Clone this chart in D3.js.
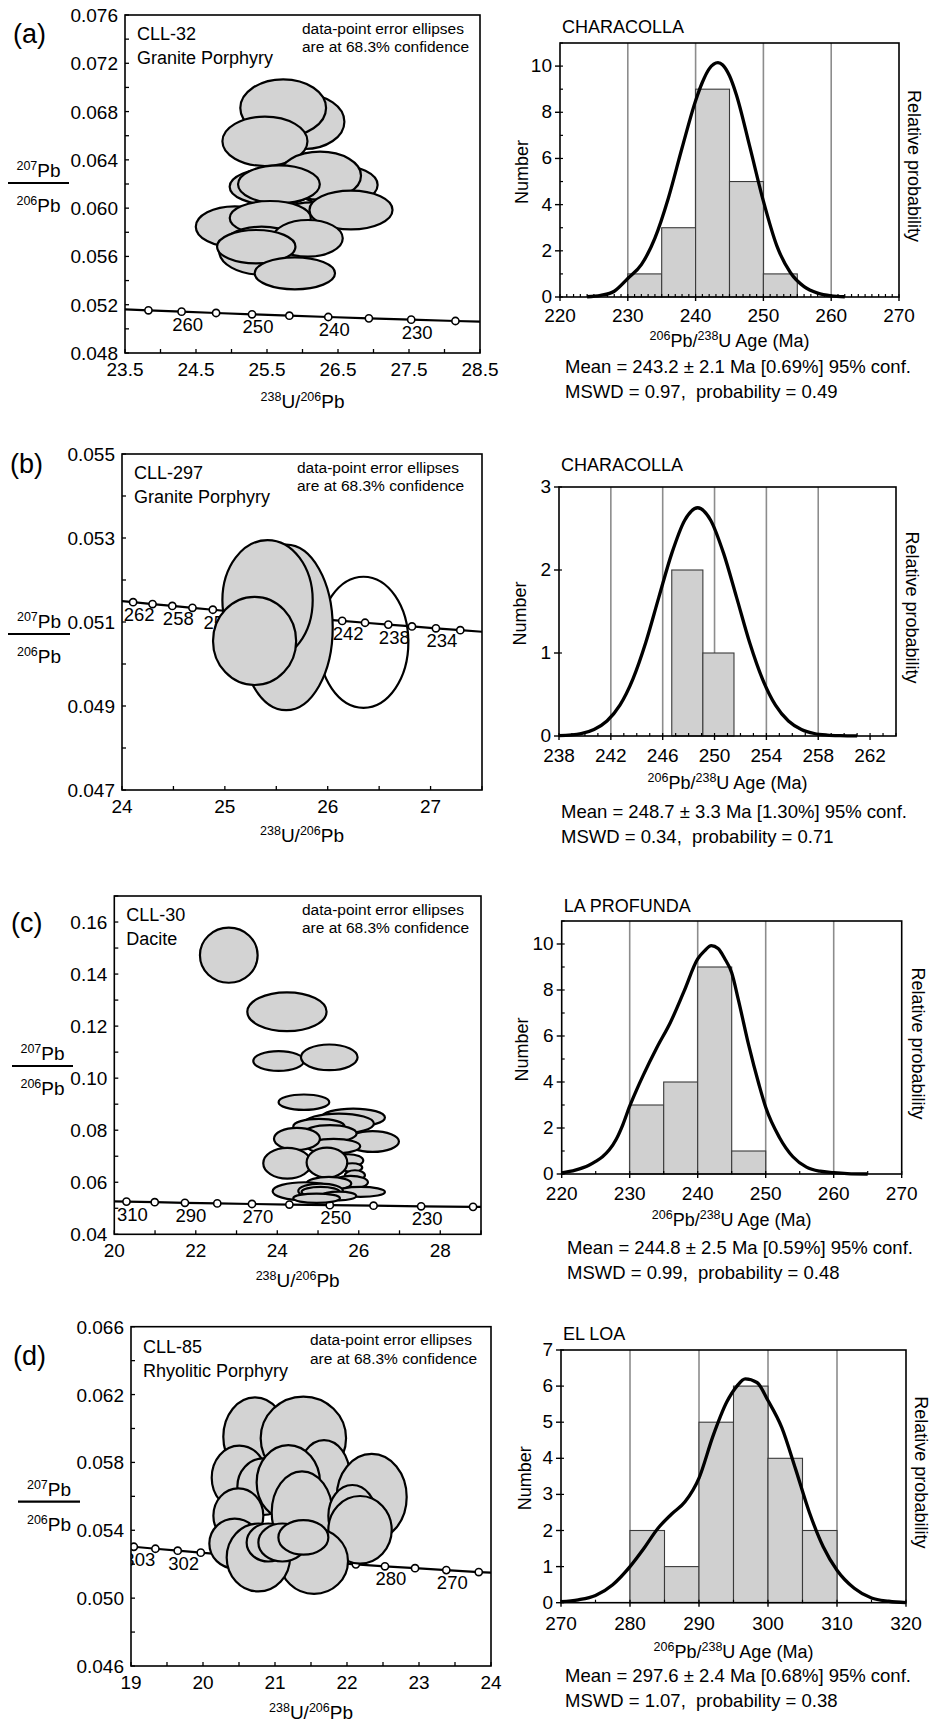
<!DOCTYPE html>
<html><head><meta charset="utf-8">
<script src="https://cdn.jsdelivr.net/npm/d3@7"></script>
<style>
body{margin:0;background:#fff}
svg{display:block}
text{font-family:"Liberation Sans",Arial,Helvetica,sans-serif;fill:#000;white-space:pre}
</style>
</head><body>
<svg id="c" width="930" height="1724"></svg>
<script>
// ================= DATA =================
const panelLabels = ["(a)","(b)","(c)","(d)"];
const sampleIds = ["CLL-32","CLL-297","CLL-30","CLL-85"];
const rockTypes = ["Granite Porphyry","Granite Porphyry","Dacite","Rhyolitic Porphyry"];
const noteLines = ["data-point error ellipses","are at 68.3% confidence"];
const histTitles = ["CHARACOLLA","CHARACOLLA","LA PROFUNDA","EL LOA"];
const meanLines = [
  "Mean = 243.2 \u00b1 2.1 Ma [0.69%] 95% conf.",
  "Mean = 248.7 \u00b1 3.3 Ma [1.30%] 95% conf.",
  "Mean = 244.8 \u00b1 2.5 Ma [0.59%] 95% conf.",
  "Mean = 297.6 \u00b1 2.4 Ma [0.68%] 95% conf."];
const mswdLines = [
  "MSWD = 0.97,  probability = 0.49",
  "MSWD = 0.34,  probability = 0.71",
  "MSWD = 0.99,  probability = 0.48",
  "MSWD = 1.07,  probability = 0.38"];

// Concordia points: age (Ma), 238U/206Pb, 207Pb/206Pb
const concAgeA = [270,265,260,255,250,245,240,235,230,225,220];
const concUA   = [23.379,23.830,24.297,24.783,25.289,25.815,26.363,26.935,27.531,28.154,28.805];
const concPbA  = [0.051652,0.051539,0.051427,0.051315,0.051204,0.051092,0.050982,0.050871,0.050762,0.050651,0.050542];
const concLabA = [260,250,240,230];

const concAgeB = [266,264,262,260,258,256,254,252,250,248,246,244,242,240,238,236,234,232,230];
const concUB   = [23.738,23.922,24.108,24.297,24.489,24.685,24.883,25.084,25.289,25.497,25.708,25.923,26.141,26.363,26.589,26.819,27.052,27.289,27.531];
const concPbB  = [0.051561,0.051516,0.051471,0.051427,0.051382,0.051338,0.051292,0.051248,0.051204,0.051159,0.051114,0.051070,0.051026,0.050982,0.050938,0.050894,0.050850,0.050805,0.050762];
const concLabB = [262,258,254,250,246,242,238,234];

const concAgeC = [315,310,300,290,280,270,260,250,240,230,220,215];
const concUC   = [19.969,20.299,20.992,21.733,22.527,23.379,24.297,25.289,26.363,27.531,28.805,29.486];
const concPbC  = [0.052680,0.052564,0.052333,0.052105,0.051877,0.051652,0.051427,0.051204,0.050982,0.050762,0.050542,0.050433];
const concLabC = [310,290,270,250,230];

const concAgeD = [335,330,325,320,315,310,305,300,295,290,285,280,275,270,265,260];
const concUD   = [18.747,19.039,19.339,19.649,19.969,20.299,20.640,20.992,21.356,21.733,22.123,22.527,22.945,23.379,23.830,24.297];
const concPbD  = [0.053146,0.053028,0.052912,0.052796,0.052680,0.052564,0.052449,0.052333,0.052219,0.052105,0.051991,0.051877,0.051764,0.051652,0.051539,0.051427];
const concLabD = [330,320,280,270];
const concLabTextD = ["303","302","280","270"];

// Error ellipses: [238U/206Pb, 207Pb/206Pb, half-width, half-height, filled]
const ellA = [
  [26.028,0.067164,0.562,0.002264,1],[25.728,0.068296,0.604,0.002375,1],[25.471,0.065534,0.599,0.002043,1],
  [26.473,0.061917,0.585,0.001657,1],[26.248,0.062690,0.576,0.001988,1],[26.122,0.059155,0.468,0.001325,1],
  [25.583,0.061779,0.609,0.001519,1],[25.668,0.061972,0.576,0.001574,1],[26.683,0.059846,0.585,0.001600,1],
  [25.045,0.058465,0.548,0.001684,1],[25.546,0.059183,0.571,0.001408,1],[25.424,0.056477,0.599,0.001988,1],
  [26.075,0.057499,0.492,0.001519,1],[25.349,0.056809,0.552,0.001381,1],[25.892,0.054600,0.566,0.001325,1]];
const ellB = [
  [26.348,0.050517,0.436,0.00156,0],[25.596,0.050870,0.4525,0.00197,1],
  [25.415,0.051520,0.439,0.00143,1],[25.289,0.050550,0.404,0.00105,1]];
const ellC = [
  [22.810,0.14724,0.708,0.01058,1],[24.237,0.12551,0.973,0.00744,1],[24.033,0.10660,0.622,0.00378,1],
  [25.276,0.10800,0.695,0.00494,1],[24.654,0.09077,0.622,0.00295,1],[25.865,0.08487,0.777,0.00346,1],
  [25.513,0.08256,0.859,0.00385,1],[25.022,0.08141,0.630,0.00295,1],[26.340,0.07564,0.646,0.00397,1],
  [25.292,0.07872,0.654,0.00320,1],[25.382,0.07385,0.654,0.00282,1],[24.483,0.07667,0.564,0.00423,1],
  [25.742,0.06833,0.368,0.00244,1],[25.840,0.06564,0.245,0.00167,1],[25.906,0.06269,0.245,0.00192,1],
  [24.245,0.06731,0.589,0.00590,1],[25.219,0.06756,0.499,0.00577,1],[25.800,0.06000,0.425,0.00244,1],
  [25.268,0.05949,0.548,0.00256,1],[26.045,0.05628,0.597,0.00192,1],[24.671,0.05654,0.785,0.00346,1],
  [25.063,0.05667,0.548,0.00282,1],[25.063,0.05628,0.466,0.00192,1],[25.513,0.05474,0.425,0.00167,1],
  [24.965,0.05385,0.573,0.00180,1]];
const ellD = [
  [20.722,0.05951,0.440,0.00232,1],[21.394,0.05942,0.593,0.00246,1],[20.505,0.05710,0.384,0.00189,1],
  [21.681,0.05725,0.356,0.00206,1],[22.343,0.05596,0.486,0.00254,1],[20.838,0.05657,0.361,0.00167,1],
  [21.185,0.05682,0.440,0.00220,1],[20.491,0.05486,0.347,0.00161,1],[21.375,0.05505,0.421,0.00242,1],
  [22.074,0.05486,0.333,0.00181,1],[22.181,0.05403,0.440,0.00199,1],[20.440,0.05322,0.352,0.00147,1],
  [21.542,0.05218,0.472,0.00193,1],[20.769,0.05240,0.440,0.00200,1],[20.907,0.05328,0.301,0.00112,1],
  [21.102,0.05328,0.333,0.00112,1],[21.394,0.05358,0.347,0.00102,1]];

// Histograms: bin edges (Ma) and counts
const binsA = [230,235,240,245,250,255];        const countsA = [1,3,9,5,1];
const binsB = [246.7,249.1,251.5];              const countsB = [2,1];
const binsC = [230,235,240,245,250];            const countsC = [3,4,9,1];
const binsD = [280,285,290,295,300,305,310];    const countsD = [2,1,5,6,4,2];

// Relative probability curves (age, height on Number scale)
const curveAgeA = [224,226,228,230,232,234,236,238,240,241,242,243.3,244,245,246,248,250,252,254,256,258,260,262];
const curveValA = [0.01,0.07,0.25,0.8,1.4,2.55,4.3,6.45,8.5,9.3,9.88,10.15,10.05,9.58,8.77,6.5,4.15,2.2,1.05,0.45,0.17,0.05,0.01];
const curveAgeB = [238,239.7,240.7,241.7,242.7,243.7,244.7,245.7,246.7,247.7,248.7,249.7,250.7,251.7,252.7,253.7,254.7,255.7,256.7,257.7,258.7,259.7,261];
const curveValB = [0.005,0.03,0.079,0.181,0.372,0.686,1.13,1.67,2.2,2.6,2.75,2.6,2.2,1.67,1.13,0.686,0.372,0.181,0.079,0.03,0.011,0.004,0.001];
const curveAgeC = [220,222,224,225,226,227,228,229,230,231,232,234,236,238,240,241,242,243,244,245,246,247.5,249,250,252,254,256,258,260,262,265];
const curveValC = [0.05,0.17,0.38,0.55,0.75,1.05,1.5,2.15,2.95,3.65,4.3,5.5,6.6,7.95,9.35,9.7,9.93,9.8,9.35,8.75,7.55,5.6,3.9,2.9,1.6,0.75,0.3,0.12,0.06,0.02,0.0];
const curveAgeD = [270,272.5,275,277.5,280,282,284,286,288,290,292,294,295.5,296.7,298.4,300,302,304,306,308,310,312.5,315,317.5,320];
const curveValD = [0.03,0.08,0.2,0.5,1.0,1.5,2.05,2.45,2.8,3.45,4.6,5.55,6.0,6.2,6.1,5.6,4.85,3.7,2.5,1.55,0.9,0.4,0.13,0.04,0.0];

// Axis ticks
const cxTicksA = [23.5,24.5,25.5,26.5,27.5,28.5]; const cyTicksA = [0.048,0.052,0.056,0.060,0.064,0.068,0.072,0.076];
const cxTicksB = [24,25,26,27];                    const cyTicksB = [0.047,0.049,0.051,0.053,0.055];
const cxTicksC = [20,22,24,26,28];                 const cyTicksC = [0.04,0.06,0.08,0.10,0.12,0.14,0.16];
const cxTicksD = [19,20,21,22,23,24];              const cyTicksD = [0.046,0.050,0.054,0.058,0.062,0.066];
const hxTicksA = [220,230,240,250,260,270]; const hyTicksA = [0,2,4,6,8,10];
const hxTicksB = [238,242,246,250,254,258,262]; const hyTicksB = [0,1,2,3];
const hxTicksC = [220,230,240,250,260,270]; const hyTicksC = [0,2,4,6,8,10];
const hxTicksD = [270,280,290,300,310,320]; const hyTicksD = [0,1,2,3,4,5,6,7];

// ================= DRAWING =================
const svg = d3.select("#c");
const FS = 18, FT = 19, SUP = 12.5;

function richText(sel, parts) {
  parts.forEach(([t, s], i) => {
    const ts = sel.append("tspan").text(t);
    if (s) ts.attr("font-size", SUP).attr("dy", -7);
    else if (i > 0 && parts[i-1][1]) ts.attr("dy", 7);
  });
}

function concPanel(p) {
  const g = svg.append("g");
  const x = d3.scaleLinear().domain(p.xDom).range([p.L, p.R]);
  const y = d3.scaleLinear().domain(p.yDom).range([p.B, p.T]);
  const cid = "clip" + p.key;
  svg.append("clipPath").attr("id", cid).append("rect")
    .attr("x", p.L).attr("y", p.T).attr("width", p.R - p.L).attr("height", p.B - p.T);
  const inner = g.append("g").attr("clip-path", `url(#${cid})`);
  const pts = p.ages.map((a, i) => ({a, u: p.u[i], pb: p.pb[i]}));
  inner.append("path")
    .attr("d", d3.line().x(d => x(d.u)).y(d => y(d.pb))(pts))
    .attr("fill", "none").attr("stroke", "#000").attr("stroke-width", 2.2);
  p.labAges.forEach((a, i) => {
    const d = pts.find(q => q.a === a);
    inner.append("text").attr("x", x(d.u) + 6).attr("y", y(d.pb) + 19)
      .attr("text-anchor", "middle").attr("font-size", 18.5)
      .text(p.labTexts ? p.labTexts[i] : String(a));
  });
  inner.selectAll("circle.cp").data(pts.filter(d => d.u > p.xDom[0] && d.u < p.xDom[1])).join("circle")
    .attr("cx", d => x(d.u)).attr("cy", d => y(d.pb)).attr("r", 3.6)
    .attr("fill", "#fff").attr("stroke", "#000").attr("stroke-width", 1.6);
  p.ells.forEach(e => {
    inner.append("ellipse")
      .attr("cx", x(e[0])).attr("cy", y(e[1]))
      .attr("rx", x(e[0] + e[2]) - x(e[0])).attr("ry", y(e[1]) - y(e[1] + e[3]))
      .attr("fill", e[4] ? "#d3d3d3" : "none").attr("stroke", "#000").attr("stroke-width", 2.2);
  });
  g.append("rect").attr("x", p.L).attr("y", p.T).attr("width", p.R - p.L).attr("height", p.B - p.T)
    .attr("fill", "none").attr("stroke", "#000").attr("stroke-width", 1.6);
  const xs = d3.range(p.xDom[0], p.xDom[1] + 1e-9, p.xMinor);
  xs.forEach(v => g.append("line").attr("x1", x(v)).attr("x2", x(v)).attr("y1", p.B).attr("y2", p.B - 4)
    .attr("stroke", "#000").attr("stroke-width", 1.3));
  const ys = d3.range(p.yDom[0], p.yDom[1] + 1e-9, p.yMinor);
  ys.forEach(v => g.append("line").attr("x1", p.L).attr("x2", p.L + 4).attr("y1", y(v)).attr("y2", y(v))
    .attr("stroke", "#000").attr("stroke-width", 1.3));
  p.xTicks.forEach(v => g.append("text").attr("x", x(v)).attr("y", p.B + 23).attr("text-anchor", "middle")
    .attr("font-size", FT).text(d3.format(p.xFmt)(v)));
  p.yTicks.forEach(v => g.append("text").attr("x", p.L - 7).attr("y", y(v) + 7).attr("text-anchor", "end")
    .attr("font-size", FT).text(d3.format(p.yFmt)(v)));
  const xt = g.append("text").attr("x", (p.L + p.R) / 2).attr("y", p.B + p.xTitleDy)
    .attr("text-anchor", "middle").attr("font-size", FT);
  richText(xt, [["238",1],["U/",0],["206",1],["Pb",0]]);
  const cx = (p.fx0 + p.fx1) / 2;
  g.append("line").attr("x1", p.fx0).attr("x2", p.fx1).attr("y1", p.fy).attr("y2", p.fy)
    .attr("stroke", "#000").attr("stroke-width", 2.2);
  richText(g.append("text").attr("x", cx).attr("y", p.fy - 6).attr("text-anchor", "middle").attr("font-size", FT),
    [["207",1],["Pb",0]]);
  richText(g.append("text").attr("x", cx).attr("y", p.fy + 29).attr("text-anchor", "middle").attr("font-size", FT),
    [["206",1],["Pb",0]]);
  g.append("text").attr("x", p.labX).attr("y", p.labY).attr("font-size", 27).text(p.panel);
  g.append("text").attr("x", p.L + 12).attr("y", p.T + p.sDy).attr("font-size", 18).text(p.sample);
  g.append("text").attr("x", p.L + 12).attr("y", p.T + p.sDy + 24).attr("font-size", 18).text(p.rock);
  g.append("text").attr("x", p.noteX).attr("y", p.T + 18.5).attr("font-size", 15.5).text(noteLines[0]);
  g.append("text").attr("x", p.noteX).attr("y", p.T + 37).attr("font-size", 15.5).text(noteLines[1]);
}

function histPanel(p) {
  const g = svg.append("g");
  const x = d3.scaleLinear().domain(p.xDom).range([p.L, p.R]);
  const y = d3.scaleLinear().domain(p.yDom).range([p.B, p.T]);
  p.xTicks.slice(1, -1).forEach(v => g.append("line").attr("x1", x(v)).attr("x2", x(v))
    .attr("y1", p.T).attr("y2", p.B).attr("stroke", "#8c8c8c").attr("stroke-width", 1.6));
  p.counts.forEach((c, i) => {
    g.append("rect").attr("x", x(p.bins[i])).attr("y", y(c))
      .attr("width", x(p.bins[i + 1]) - x(p.bins[i])).attr("height", p.B - y(c))
      .attr("fill", "#d0d0d0").attr("stroke", "#3a3a3a").attr("stroke-width", 1.1);
  });
  const cpts = p.cAge.map((a, i) => [a, p.cVal[i]]);
  g.append("path").attr("d", d3.line().curve(d3.curveMonotoneX).x(d => x(d[0])).y(d => y(d[1]))(cpts))
    .attr("fill", "none").attr("stroke", "#000").attr("stroke-width", 3.3);
  g.append("rect").attr("x", p.L).attr("y", p.T).attr("width", p.R - p.L).attr("height", p.B - p.T)
    .attr("fill", "none").attr("stroke", "#000").attr("stroke-width", 1.6);
  d3.range(p.xDom[0], p.xDom[1] + 1e-9, p.xMinor).forEach(v => g.append("line")
    .attr("x1", x(v)).attr("x2", x(v)).attr("y1", p.B).attr("y2", p.B - 3).attr("stroke", "#000").attr("stroke-width", 1.2));
  p.xTicks.forEach(v => {
    g.append("line").attr("x1", x(v)).attr("x2", x(v)).attr("y1", p.B).attr("y2", p.B + 4).attr("stroke", "#000").attr("stroke-width", 1.4);
    g.append("text").attr("x", x(v)).attr("y", p.B + p.xtDy + 1).attr("text-anchor", "middle").attr("font-size", FT).text(v);
  });
  d3.range(p.yDom[0], p.yDom[1] + 1e-9, p.yMinor).forEach(v => g.append("line")
    .attr("x1", p.L).attr("x2", p.L + 3).attr("y1", y(v)).attr("y2", y(v)).attr("stroke", "#000").attr("stroke-width", 1.2));
  p.yTicks.forEach(v => {
    g.append("line").attr("x1", p.L - 5).attr("x2", p.L).attr("y1", y(v)).attr("y2", y(v)).attr("stroke", "#000").attr("stroke-width", 1.4);
    g.append("text").attr("x", p.L - 8).attr("y", y(v) + 6).attr("text-anchor", "end").attr("font-size", FT).text(v);
  });
  g.append("text").attr("x", p.L + 2).attr("y", p.T + p.titleDy).attr("font-size", FS).text(p.title);
  const midY = (p.T + p.B) / 2;
  g.append("text").attr("transform", `translate(${p.L - p.numDx},${midY + 2}) rotate(-90)`)
    .attr("text-anchor", "middle").attr("font-size", FS).text("Number");
  g.append("text").attr("transform", `translate(${p.R + p.relDx},${midY - 4}) rotate(90)`)
    .attr("text-anchor", "middle").attr("font-size", FS).text("Relative probability");
  richText(g.append("text").attr("x", (p.L + p.R) / 2).attr("y", p.B + p.xTitleDy).attr("text-anchor", "middle").attr("font-size", FS),
    [["206",1],["Pb/",0],["238",1],["U Age (Ma)",0]]);
  g.append("text").attr("x", p.tx).attr("y", p.B + p.meanDy).attr("font-size", 18.5).text(p.mean);
  g.append("text").attr("x", p.tx).attr("y", p.B + p.meanDy + 25).attr("font-size", 18.5).text(p.mswd);
}

// ---- left (Tera-Wasserburg) panels ----
concPanel({key:"a", L:125, R:480, T:15, B:353, xDom:[23.5,28.5], yDom:[0.048,0.076],
  xTicks:cxTicksA, yTicks:cyTicksA, xMinor:0.5, yMinor:0.002, xFmt:".1f", yFmt:".3f",
  ages:concAgeA, u:concUA, pb:concPbA, labAges:concLabA, ells:ellA,
  xTitleDy:55, fx0:8, fx1:69, fy:183, labX:13, labY:43, panel:panelLabels[0],
  sample:sampleIds[0], rock:rockTypes[0], sDy:24.5, noteX:302});
concPanel({key:"b", L:122, R:482, T:454, B:790, xDom:[24,27.5], yDom:[0.047,0.055],
  xTicks:cxTicksB, yTicks:cyTicksB, xMinor:0.5, yMinor:0.001, xFmt:"d", yFmt:".3f",
  ages:concAgeB, u:concUB, pb:concPbB, labAges:concLabB, ells:ellB,
  xTitleDy:52, fx0:8, fx1:70, fy:634, labX:10, labY:473, panel:panelLabels[1],
  sample:sampleIds[1], rock:rockTypes[1], sDy:24.5, noteX:297});
concPanel({key:"c", L:114.3, R:481, T:896, B:1234.3, xDom:[20,29], yDom:[0.04,0.17],
  xTicks:cxTicksC, yTicks:cyTicksC, xMinor:1, yMinor:0.01, xFmt:"d", yFmt:".2f",
  ages:concAgeC, u:concUC, pb:concPbC, labAges:concLabC, ells:ellC,
  xTitleDy:53, fx0:12, fx1:73, fy:1066, labX:11, labY:932, panel:panelLabels[2],
  sample:sampleIds[2], rock:rockTypes[2], sDy:24.5, noteX:302});
concPanel({key:"d", L:131, R:491, T:1326.7, B:1666, xDom:[19,24], yDom:[0.046,0.066],
  xTicks:cxTicksD, yTicks:cyTicksD, xMinor:0.5, yMinor:0.002, xFmt:"d", yFmt:".3f",
  ages:concAgeD, u:concUD, pb:concPbD, labAges:concLabD, labTexts:concLabTextD, ells:ellD,
  xTitleDy:53, fx0:18, fx1:80, fy:1501.7, labX:13, labY:1365, panel:panelLabels[3],
  sample:sampleIds[3], rock:rockTypes[3], sDy:26, noteX:310});

// ---- right (histogram) panels ----
histPanel({L:560, R:899, T:43, B:297, xDom:[220,270], yDom:[0,11], xTicks:hxTicksA, yTicks:hyTicksA,
  xMinor:1, yMinor:1, bins:binsA, counts:countsA, cAge:curveAgeA, cVal:curveValA,
  title:histTitles[0], titleDy:-10, numDx:32, relDx:9, xtDy:24, xTitleDy:50, tx:565, meanDy:76,
  mean:meanLines[0], mswd:mswdLines[0]});
histPanel({L:559, R:896, T:487, B:736, xDom:[238,264], yDom:[0,3], xTicks:hxTicksB, yTicks:hyTicksB,
  xMinor:1, yMinor:1, bins:binsB, counts:countsB, cAge:curveAgeB, cVal:curveValB,
  title:histTitles[1], titleDy:-16, numDx:33, relDx:10, xtDy:25, xTitleDy:53, tx:561, meanDy:82,
  mean:meanLines[1], mswd:mswdLines[1]});
histPanel({L:561.7, R:901.7, T:921, B:1174, xDom:[220,270], yDom:[0,11], xTicks:hxTicksC, yTicks:hyTicksC,
  xMinor:5, yMinor:1, bins:binsC, counts:countsC, cAge:curveAgeC, cVal:curveValC,
  title:histTitles[2], titleDy:-9.5, numDx:34, relDx:10, xtDy:25, xTitleDy:52, tx:567, meanDy:80,
  mean:meanLines[2], mswd:mswdLines[2]});
histPanel({L:561, R:906, T:1350, B:1602.7, xDom:[270,320], yDom:[0,7], xTicks:hxTicksD, yTicks:hyTicksD,
  xMinor:5, yMinor:1, bins:binsD, counts:countsD, cAge:curveAgeD, cVal:curveValD,
  title:histTitles[3], titleDy:-10, numDx:30, relDx:9, xtDy:26, xTitleDy:55, tx:565, meanDy:79,
  mean:meanLines[3], mswd:mswdLines[3]});
</script>
</body></html>
